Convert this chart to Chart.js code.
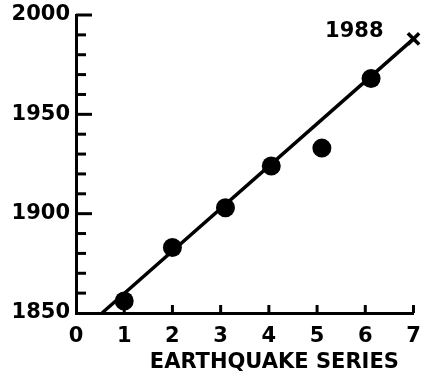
<!DOCTYPE html>
<html>
<head>
<meta charset="utf-8">
<script src="https://cdn.jsdelivr.net/npm/chart.js@4/dist/chart.umd.min.js"></script>
<style>
  html, body { margin: 0; padding: 0; background: #fff; }
  #wrap { width: 425px; height: 375px; position: relative; }
</style>
</head>
<body>
<div id="wrap"><canvas id="c" width="425" height="375"></canvas></div>
<script>
// Observed earthquake series (series number vs year)
const seriesNumber = [1.0, 2.0, 3.1, 4.05, 5.1, 6.12];
const seriesYear   = [1856, 1883, 1903, 1924, 1933, 1968];
// Predicted next event
const predictedNumber = [7];
const predictedYear   = [1988];
const predictedLabel  = '1988';
// Fitted line endpoints
const fitNumber = [0.54, 7.0];
const fitYear   = [1850, 1988];
// Axis ranges / labels
const xTickValues = [0, 1, 2, 3, 4, 5, 6, 7];
const yMin = 1850, yMax = 2000, yStep = 10, yLabelStep = 50;
const xTitle = 'EARTHQUAKE SERIES  ';

const FONT = '"DejaVu Sans", sans-serif';

const toPts = (xs, ys) => xs.map((x, i) => ({ x: x, y: ys[i] }));

const inwardTicks = {
  id: 'inwardTicks',
  afterDatasetsDraw(chart) {
    const ctx = chart.ctx;
    const xs = chart.scales.x, ys = chart.scales.y;
    const axisX = xs.getPixelForValue(0);
    const axisY = ys.getPixelForValue(yMin);
    ctx.save();
    ctx.strokeStyle = '#000';
    ctx.lineWidth = 3;
    ctx.lineCap = 'butt';
    ys.ticks.forEach(t => {
      if (t.value === yMin) return;
      const py = ys.getPixelForValue(t.value);
      const len = (t.value % yLabelStep === 0) ? 16 : 10;
      ctx.beginPath();
      ctx.moveTo(axisX, py);
      ctx.lineTo(axisX + len, py);
      ctx.stroke();
    });
    xs.ticks.forEach(t => {
      if (t.value === 0) return;
      const px = xs.getPixelForValue(t.value);
      ctx.beginPath();
      ctx.moveTo(px, axisY);
      ctx.lineTo(px, axisY - 8);
      ctx.stroke();
    });
    // annotation for predicted point
    const px = xs.getPixelForValue(predictedNumber[0]);
    const py = ys.getPixelForValue(predictedYear[0]);
    ctx.fillStyle = '#000';
    ctx.font = 'bold 21px ' + FONT;
    ctx.textAlign = 'right';
    ctx.textBaseline = 'middle';
    ctx.fillText(predictedLabel, px - 30, py - 7);
    ctx.restore();
  }
};

new Chart(document.getElementById('c'), {
  type: 'scatter',
  data: {
    datasets: [
      { label: 'fit', type: 'line', data: toPts(fitNumber, fitYear), borderColor: '#000', borderWidth: 3.5, pointRadius: 0, fill: false, clip: false, order: 2 },
      { label: 'observed', data: toPts(seriesNumber, seriesYear), pointStyle: 'circle', pointRadius: 9.5, backgroundColor: '#000', borderColor: '#000', borderWidth: 0, clip: false, order: 1 },
      { label: 'predicted', data: toPts(predictedNumber, predictedYear), pointStyle: 'crossRot', pointRadius: 8, borderColor: '#000', borderWidth: 3.5, clip: false, order: 0 }
    ]
  },
  options: {
    responsive: false,
    animation: false,
    events: [],
    layout: { padding: { left: 0, top: 15, right: 8, bottom: 0 } },
    plugins: { legend: { display: false }, tooltip: { enabled: false } },
    scales: {
      x: {
        type: 'linear',
        min: 0, max: 7,
        afterBuildTicks(scale) { scale.ticks = xTickValues.map(v => ({ value: v })); },
        grid: { drawOnChartArea: false, drawTicks: true, tickLength: 8, color: 'rgba(0,0,0,0)' },
        border: { display: true, color: '#000', width: 3 },
        ticks: { color: '#000', font: { family: FONT, size: 21, weight: 'bold' }, padding: 3, autoSkip: false, maxRotation: 0 },
        title: { display: true, text: xTitle, align: 'end', color: '#000', font: { family: FONT, size: 21, weight: 'bold' }, padding: { top: 0, bottom: 0 } },
        afterFit(scale) { scale.height = 62; scale.paddingLeft = 0; scale.paddingRight = 0; }
      },
      y: {
        type: 'linear',
        min: yMin, max: yMax,
        grid: { drawOnChartArea: false, drawTicks: false },
        border: { display: true, color: '#000', width: 3 },
        ticks: { stepSize: yStep, autoSkip: false, color: '#000', font: { family: FONT, size: 21, weight: 'bold' }, padding: 6,
          callback: v => (v % yLabelStep === 0 ? String(v) : '') },
        afterFit(scale) { scale.width = 76; scale.paddingTop = 0; scale.paddingBottom = 0; }
      }
    }
  },
  plugins: [inwardTicks]
});
</script>
</body>
</html>
